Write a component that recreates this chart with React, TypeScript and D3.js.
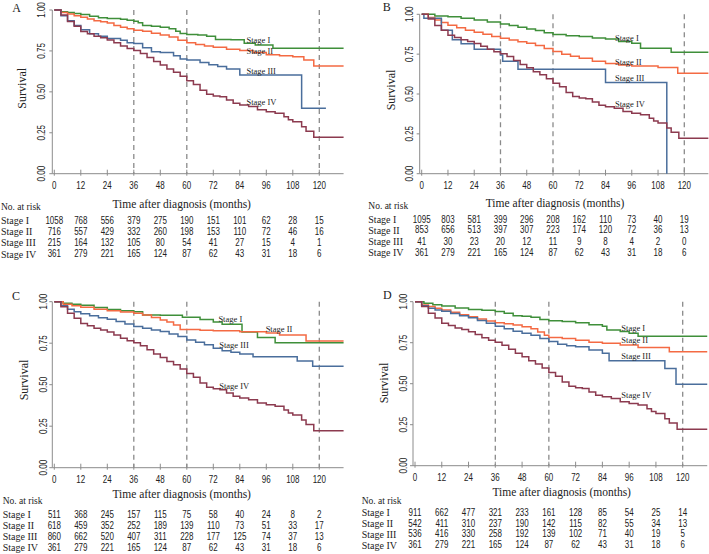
import * as React from "react";
import { scaleLinear, line, curveStepAfter, format } from "d3";

// x axis ticks (months) and survival ticks
const months = [0, 12, 24, 36, 48, 60, 72, 84, 96, 108, 120];
const yTicks = [0, 0.25, 0.5, 0.75, 1];
const guideMonths = [36, 60, 120];
const xMax = 131;
const stageNames = ["Stage I", "Stage II", "Stage III", "Stage IV"];
const stageColors = ["#3f8f3a", "#f46a43", "#4a6e9c", "#8c3a4f"];

type Pt = [number, number];

// Stage IV is the same cohort in every panel
const stageIV: Pt[] = [
  [0, 1], [3, 0.97], [6, 0.93], [9, 0.9], [12, 0.868], [15, 0.855], [18, 0.84],
  [21, 0.83], [24, 0.817], [27, 0.8], [30, 0.78], [33, 0.765], [36, 0.752],
  [39, 0.735], [42, 0.71], [45, 0.685], [48, 0.664], [51, 0.64], [54, 0.62],
  [57, 0.595], [60, 0.568], [63, 0.545], [66, 0.51], [69, 0.485], [72, 0.475],
  [75, 0.47], [78, 0.45], [81, 0.43], [84, 0.42], [88, 0.41], [92, 0.39],
  [96, 0.379], [100, 0.37], [104, 0.348], [106, 0.33], [108, 0.318],
  [112, 0.287], [114, 0.26], [117.5, 0.222], [131, 0.222],
];

// panel A
const aStageI: Pt[] = [
  [0, 1], [3, 0.99], [6, 0.985], [9, 0.978], [12, 0.972], [16, 0.962], [20, 0.952],
  [24, 0.948], [30, 0.944], [33, 0.938], [36, 0.932], [38, 0.922], [40, 0.905],
  [44, 0.9], [48, 0.894], [52, 0.885], [55, 0.87], [57, 0.857], [60, 0.851],
  [65, 0.848], [69, 0.84], [73, 0.82], [80, 0.818], [86, 0.797], [91, 0.786],
  [99, 0.766], [131, 0.766],
];
const aStageII: Pt[] = [
  [0, 1], [3, 0.985], [6, 0.975], [9, 0.965], [12, 0.955], [15, 0.945], [18, 0.935],
  [21, 0.928], [24, 0.92], [27, 0.905], [30, 0.895], [33, 0.885], [36, 0.877],
  [40, 0.87], [44, 0.858], [48, 0.847], [52, 0.835], [56, 0.815], [60, 0.8],
  [64, 0.79], [68, 0.78], [72, 0.772], [78, 0.76], [84, 0.752], [90, 0.74],
  [96, 0.726], [102, 0.72], [108, 0.715], [113, 0.695], [117.5, 0.658], [131, 0.658],
];
const aStageIII: Pt[] = [
  [0, 1], [3, 0.965], [6, 0.935], [9, 0.905], [12, 0.88], [16, 0.855], [20, 0.84],
  [24, 0.826], [30, 0.815], [33, 0.8], [36, 0.795], [40, 0.77], [44, 0.745],
  [48, 0.74], [54, 0.72], [57, 0.7], [60, 0.694], [66, 0.68], [70, 0.665],
  [74, 0.655], [78, 0.64], [84, 0.603], [112, 0.4], [123, 0.4],
];

// panel B
const bStageI: Pt[] = [
  [0, 1], [6, 0.99], [12, 0.984], [18, 0.975], [24, 0.964], [30, 0.952], [36, 0.939],
  [40, 0.93], [44, 0.918], [48, 0.907], [52, 0.898], [56, 0.885], [60, 0.873],
  [66, 0.866], [72, 0.86], [78, 0.852], [84, 0.845], [90, 0.83], [96, 0.818],
  [100, 0.787], [114, 0.762], [131, 0.762],
];
const bStageII: Pt[] = [
  [0, 1], [3, 0.98], [6, 0.965], [9, 0.948], [12, 0.932], [16, 0.915], [20, 0.9],
  [24, 0.887], [28, 0.875], [32, 0.86], [36, 0.849], [40, 0.838], [44, 0.828],
  [48, 0.818], [52, 0.805], [56, 0.785], [60, 0.766], [64, 0.75], [68, 0.737],
  [72, 0.725], [78, 0.705], [84, 0.692], [90, 0.682], [96, 0.676], [108, 0.667],
  [117, 0.63], [131, 0.63],
];
const bStageIII: Pt[] = [
  [0, 1], [1, 0.976], [9, 0.9], [14, 0.84], [18, 0.815], [24, 0.78], [36, 0.745],
  [37, 0.705], [44, 0.655], [84, 0.572], [112, 0],
];

// panel C
const cStageI: Pt[] = [
  [0, 1], [4, 0.99], [8, 0.985], [12, 0.978], [18, 0.965], [24, 0.953], [30, 0.945],
  [36, 0.94], [40, 0.92], [48, 0.918], [58, 0.906], [66, 0.893], [72, 0.878],
  [76, 0.864], [85, 0.818], [92, 0.785], [100, 0.753], [131, 0.753],
];
const cStageII: Pt[] = [
  [0, 1], [4, 0.985], [8, 0.975], [12, 0.966], [18, 0.955], [24, 0.946], [30, 0.938],
  [36, 0.93], [40, 0.92], [44, 0.905], [48, 0.89], [51, 0.877], [54, 0.86],
  [57, 0.833], [66, 0.828], [72, 0.825], [84, 0.819], [96, 0.812], [102, 0.8],
  [114, 0.764], [131, 0.764],
];
const cStageIII: Pt[] = [
  [0, 1], [3, 0.975], [6, 0.955], [9, 0.94], [12, 0.928], [16, 0.915], [20, 0.903],
  [24, 0.894], [28, 0.88], [32, 0.865], [36, 0.85], [40, 0.84], [44, 0.83],
  [48, 0.82], [52, 0.805], [56, 0.79], [60, 0.77], [64, 0.755], [68, 0.74],
  [72, 0.72], [76, 0.705], [80, 0.695], [84, 0.685], [90, 0.669], [110, 0.643],
  [117, 0.611], [131, 0.611],
];

// panel D
const dStageI: Pt[] = [
  [0, 1], [4, 0.99], [8, 0.982], [12, 0.974], [18, 0.962], [24, 0.953], [30, 0.948],
  [36, 0.94], [40, 0.93], [44, 0.915], [48, 0.912], [52, 0.905], [56, 0.892],
  [60, 0.884], [66, 0.88], [72, 0.872], [78, 0.86], [84, 0.85], [86, 0.828],
  [92, 0.818], [96, 0.808], [100, 0.79], [131, 0.79],
];
const dStageII: Pt[] = [
  [0, 1], [3, 0.98], [6, 0.97], [9, 0.96], [12, 0.949], [16, 0.935], [20, 0.92],
  [24, 0.908], [28, 0.895], [32, 0.882], [36, 0.872], [40, 0.865], [44, 0.858],
  [48, 0.848], [52, 0.835], [55, 0.815], [58, 0.795], [60, 0.782], [66, 0.776],
  [72, 0.765], [78, 0.752], [84, 0.746], [92, 0.736], [100, 0.72], [114, 0.695],
  [131, 0.695],
];
const dStageIII: Pt[] = [
  [0, 1], [3, 0.975], [6, 0.96], [9, 0.95], [12, 0.942], [16, 0.928], [20, 0.915],
  [24, 0.902], [28, 0.885], [32, 0.868], [36, 0.85], [40, 0.835], [44, 0.82],
  [48, 0.807], [52, 0.795], [56, 0.775], [60, 0.757], [64, 0.74], [68, 0.732],
  [72, 0.725], [78, 0.705], [84, 0.685], [87, 0.64], [112, 0.593], [117, 0.496],
  [131, 0.496],
];

// numbers at risk
const riskIV = [361, 279, 221, 165, 124, 87, 62, 43, 31, 18, 6];
const riskAI = [1058, 768, 556, 379, 275, 190, 151, 101, 62, 28, 15];
const riskAII = [716, 557, 429, 332, 260, 198, 153, 110, 72, 46, 16];
const riskAIII = [215, 164, 132, 105, 80, 54, 41, 27, 15, 4, 1];
const riskBI = [1095, 803, 581, 399, 296, 208, 162, 110, 73, 40, 19];
const riskBII = [853, 656, 513, 397, 307, 223, 174, 120, 72, 36, 13];
const riskBIII = [41, 30, 23, 20, 12, 11, 9, 8, 4, 2, 0];
const riskCI = [511, 368, 245, 157, 115, 75, 58, 40, 24, 8, 2];
const riskCII = [618, 459, 352, 252, 189, 139, 110, 73, 51, 33, 17];
const riskCIII = [860, 662, 520, 407, 311, 228, 177, 125, 74, 37, 13];
const riskDI = [911, 662, 477, 321, 233, 161, 128, 85, 54, 25, 14];
const riskDII = [542, 411, 310, 237, 190, 142, 115, 82, 55, 34, 13];
const riskDIII = [536, 416, 330, 258, 192, 139, 102, 71, 40, 19, 5];

// where the stage labels sit, in [month, survival]
const aLabels: Pt[] = [[87, 0.817], [87, 0.751], [87, 0.629], [87, 0.44]];
const bLabels: Pt[] = [[88.3, 0.849], [88.3, 0.7], [88.3, 0.603], [88.3, 0.437]];
const cLabels: Pt[] = [[74.3, 0.894], [95.7, 0.834], [74.7, 0.739], [74.7, 0.492]];
const dLabels: Pt[] = [[92.5, 0.841], [92.5, 0.765], [92.5, 0.671], [92.5, 0.433]];

const serif = "'Liberation Serif', 'Times New Roman', serif";
const sans = "'Liberation Sans', Arial, sans-serif";
const axisColor = "#8c8c8c";
const textColor = "#222";

function Narrow({ x, y, rotate, children }: any) {
  return (
    <text
      transform={`translate(${x},${y})${rotate ? " rotate(-90)" : ""} scale(0.8,1)`}
      textAnchor="middle"
      dominantBaseline="central"
      fontFamily={sans}
      fontSize={10}
      fill={textColor}
    >
      {children}
    </text>
  );
}

function Panel({ cfg }: any) {
  const x = scaleLinear().domain([0, 120]).range([cfg.x0, cfg.x120]);
  const y = scaleLinear().domain([0, 1]).range([cfg.yBot, cfg.yTop]);
  const path = line<Pt>()
    .x((d) => x(d[0]))
    .y((d) => y(d[1]))
    .curve(curveStepAfter);
  const fmt = format(".2f");
  const axisX = cfg.x0 - 2;
  const xEnd = x(xMax);

  return (
    <g>
      <text x={cfg.letter[0]} y={cfg.letter[1]} dominantBaseline="central" textAnchor="middle"
        fontFamily={serif} fontSize={12} fill="#222">{cfg.name}</text>

      {guideMonths.map((m) => (
        <line key={m} x1={x(m)} x2={x(m)} y1={y(1)} y2={y(0)}
          stroke="#8a8a8a" strokeWidth={1.3} strokeDasharray="5,4" />
      ))}

      {/* axes */}
      <line x1={axisX} x2={axisX} y1={y(1)} y2={y(0)} stroke={axisColor} />
      <line x1={axisX} x2={xEnd} y1={y(0)} y2={y(0)} stroke={axisColor} />
      {yTicks.map((t) => (
        <g key={t}>
          <line x1={axisX - 3} x2={axisX} y1={y(t)} y2={y(t)} stroke={axisColor} />
          <Narrow x={cfg.yLabelX} y={y(t)} rotate>{fmt(t)}</Narrow>
        </g>
      ))}
      {months.map((m) => (
        <g key={m}>
          <line x1={x(m)} x2={x(m)} y1={y(0) - 4} y2={y(0) + 2} stroke={axisColor} />
          <Narrow x={x(m)} y={cfg.tickY}>{m}</Narrow>
        </g>
      ))}
      <text transform={`translate(${cfg.survival[0]},${cfg.survival[1]}) rotate(-90)`}
        textAnchor="middle" dominantBaseline="central" fontFamily={serif} fontSize={12}
        fill={textColor}>Survival</text>
      <text x={cfg.title[0]} y={cfg.title[1]} textAnchor="middle" dominantBaseline="central"
        fontFamily={serif} fontSize={11.5} fill={textColor}>Time after diagnosis (months)</text>

      {/* curves */}
      {cfg.curves.map((c: Pt[], i: number) => (
        <path key={i} d={path(c) || ""} fill="none" stroke={stageColors[i]} strokeWidth={1.5} />
      ))}
      {cfg.labels.map((p: Pt, i: number) => (
        <text key={i} x={x(p[0])} y={y(p[1])} dominantBaseline="central" fontFamily={serif}
          fontSize={8.5} fill={textColor}>{stageNames[i]}</text>
      ))}

      {/* risk table */}
      <text x={cfg.tableX} y={cfg.narY} dominantBaseline="central" fontFamily={serif}
        fontSize={9.5} fill={textColor}>No. at risk</text>
      {cfg.risk.map((row: number[], i: number) => (
        <g key={i}>
          <text x={cfg.tableX} y={cfg.rowY[i]} dominantBaseline="central" fontFamily={serif}
            fontSize={10} fill={textColor}>{stageNames[i]}</text>
          {row.map((v, j) => (
            <Narrow key={j} x={x(months[j])} y={cfg.rowY[i]}>{v}</Narrow>
          ))}
        </g>
      ))}
    </g>
  );
}

const panels = [
  {
    name: "A", letter: [16.7, 8.3], x0: 54.3, x120: 319.3, yTop: 10, yBot: 173.7,
    yLabelX: 41.7, survival: [21.7, 88.3], tickY: 185.7, title: [181.7, 204],
    tableX: 1, narY: 206.7, rowY: [220.7, 231.7, 242.3, 254],
    curves: [aStageI, aStageII, aStageIII, stageIV], labels: aLabels,
    risk: [riskAI, riskAII, riskAIII, riskIV],
  },
  {
    name: "B", letter: [386.7, 7.3], x0: 421.7, x120: 684.3, yTop: 14.3, yBot: 173.7,
    yLabelX: 410, survival: [391, 90], tickY: 185.7, title: [555, 203.3],
    tableX: 368.3, narY: 206, rowY: [219.3, 230, 241.7, 252.7],
    curves: [bStageI, bStageII, bStageIII, stageIV], labels: bLabels,
    risk: [riskBI, riskBII, riskBIII, riskIV],
  },
  {
    name: "C", letter: [16, 296], x0: 54.3, x120: 319.3, yTop: 301.7, yBot: 467.7,
    yLabelX: 43.3, survival: [24, 380], tickY: 479.3, title: [181.7, 494.3],
    tableX: 2.7, narY: 500.7, rowY: [514.3, 525.7, 536.7, 547.7],
    curves: [cStageI, cStageII, cStageIII, stageIV], labels: cLabels,
    risk: [riskCI, riskCII, riskCIII, riskIV],
  },
  {
    name: "D", letter: [387.3, 295], x0: 415, x120: 682.7, yTop: 301.7, yBot: 465.7,
    yLabelX: 403.3, survival: [384.3, 383], tickY: 477.3, title: [561.7, 492.3],
    tableX: 361.7, narY: 500.7, rowY: [512.7, 523.3, 534, 545],
    curves: [dStageI, dStageII, dStageIII, stageIV], labels: dLabels,
    risk: [riskDI, riskDII, riskDIII, riskIV],
  },
];

export default function App() {
  return (
    <svg width={709} height={554} style={{ position: "absolute", left: 0, top: 0, background: "#fff" }}>
      <rect width={709} height={554} fill="#fff" />
      {panels.map((p) => (
        <Panel key={p.name} cfg={p} />
      ))}
    </svg>
  );
}
